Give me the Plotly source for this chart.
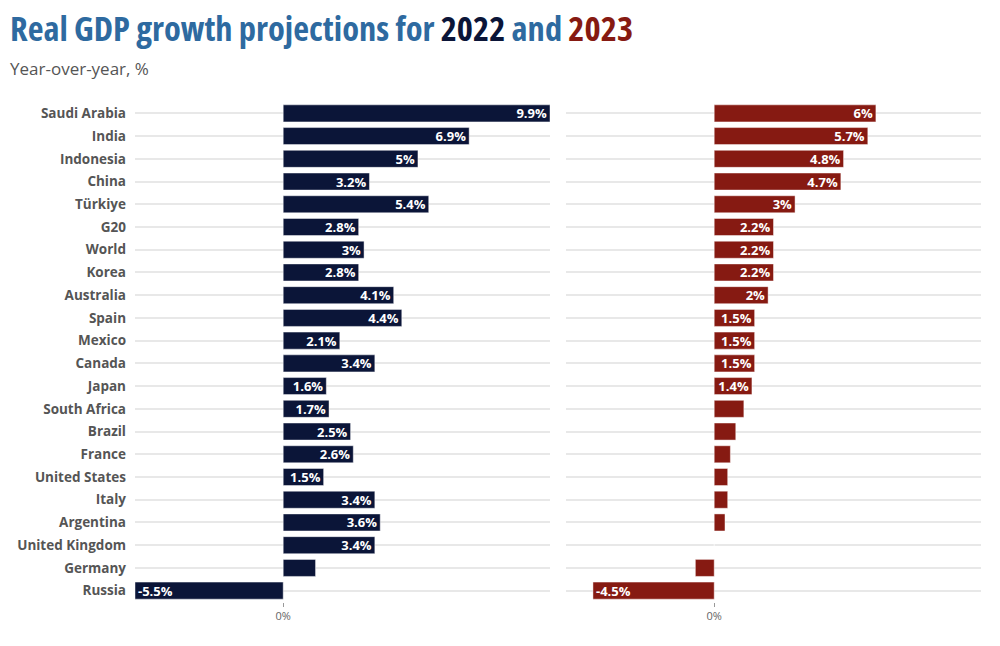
import plotly.graph_objects as go

countries = ["Saudi Arabia", "India", "Indonesia", "China", "Türkiye", "G20", "World", "Korea",
             "Australia", "Spain", "Mexico", "Canada", "Japan", "South Africa", "Brazil", "France",
             "United States", "Italy", "Argentina", "United Kingdom", "Germany", "Russia"]
gdp_2022 = [9.9, 6.9, 5.0, 3.2, 5.4, 2.8, 3.0, 2.8, 4.1, 4.4, 2.1, 3.4, 1.6, 1.7, 2.5, 2.6,
            1.5, 3.4, 3.6, 3.4, 1.2, -5.5]
gdp_2023 = [6.0, 5.7, 4.8, 4.7, 3.0, 2.2, 2.2, 2.2, 2.0, 1.5, 1.5, 1.5, 1.4, 1.1, 0.8, 0.6,
            0.5, 0.5, 0.4, 0.0, -0.7, -4.5]

NAVY = "#0b1538"
RED = "#861a12"
LABEL_MIN = 1.4


def fmt(v):
    if abs(v) < LABEL_MIN:
        return ""
    s = ("%.1f" % v).rstrip("0").rstrip(".")
    return s + "%"


fig = go.Figure()
for vals, color, xa, ya in [(gdp_2022, NAVY, "x", "y"), (gdp_2023, RED, "x2", "y2")]:
    fig.add_trace(go.Bar(
        y=countries, x=vals, orientation="h", xaxis=xa, yaxis=ya,
        marker=dict(color=color, line=dict(color="rgba(255,255,255,0.45)", width=1)),
        width=0.75,
        text=[fmt(v) for v in vals], textposition="inside", insidetextanchor="end",
        constraintext="none", textangle=0,
        textfont=dict(family="Open Sans", size=13, color="white", weight="bold"),
        cliponaxis=False, showlegend=False, hoverinfo="skip",
    ))

xcommon = dict(range=[-5.5, 9.9], tickvals=[0], ticktext=["0%"], ticks="outside", ticklen=4,
               tickcolor="#999", tickfont=dict(family="Open Sans", size=11, color="#666"),
               showgrid=False, zeroline=False, showline=False, fixedrange=True)
ST = "font-stretch:condensed;"
fig.update_layout(
    width=1000, height=646,
    margin=dict(l=0, r=0, t=102, b=44),
    plot_bgcolor="white", paper_bgcolor="white",
    bargap=0.25,
    uniformtext=dict(minsize=13, mode="show"),
    xaxis=dict(domain=[0.135, 0.55], anchor="y", **xcommon),
    xaxis2=dict(domain=[0.566, 0.981], anchor="y2", **xcommon),
    yaxis=dict(anchor="x", categoryorder="array", categoryarray=countries, autorange="reversed",
               showgrid=True, gridcolor="#e8e8e8", gridwidth=1.5, ticks="", ticklabelstandoff=8,
               tickfont=dict(family="Open Sans", size=13.5, color="#555", weight="bold")),
    yaxis2=dict(anchor="x2", matches="y", categoryorder="array", categoryarray=countries,
                autorange="reversed", showgrid=True, gridcolor="#e8e8e8", gridwidth=1.5,
                showticklabels=False, ticks=""),
    annotations=[
        dict(xref="paper", yref="paper", x=0.008, y=(602 - 27) / 500, xanchor="left", yanchor="middle",
             showarrow=False,
             text="<b><span style='color:#2e6aa0;" + ST + "'>Real GDP growth projections for </span>"
                  "<span style='color:#0b1538;" + ST + "'>2022</span>"
                  "<span style='color:#2e6aa0;" + ST + "'> and </span>"
                  "<span style='color:#861a12;" + ST + "'>2023</span></b>",
             font=dict(family="Open Sans", size=34.5)),
        dict(xref="paper", yref="paper", x=0.008, y=(602 - 69) / 500, xanchor="left", yanchor="middle",
             showarrow=False, text="Year-over-year, %",
             font=dict(family="Open Sans", size=17, color="#555")),
    ],
)

fig.write_html("out.html")
